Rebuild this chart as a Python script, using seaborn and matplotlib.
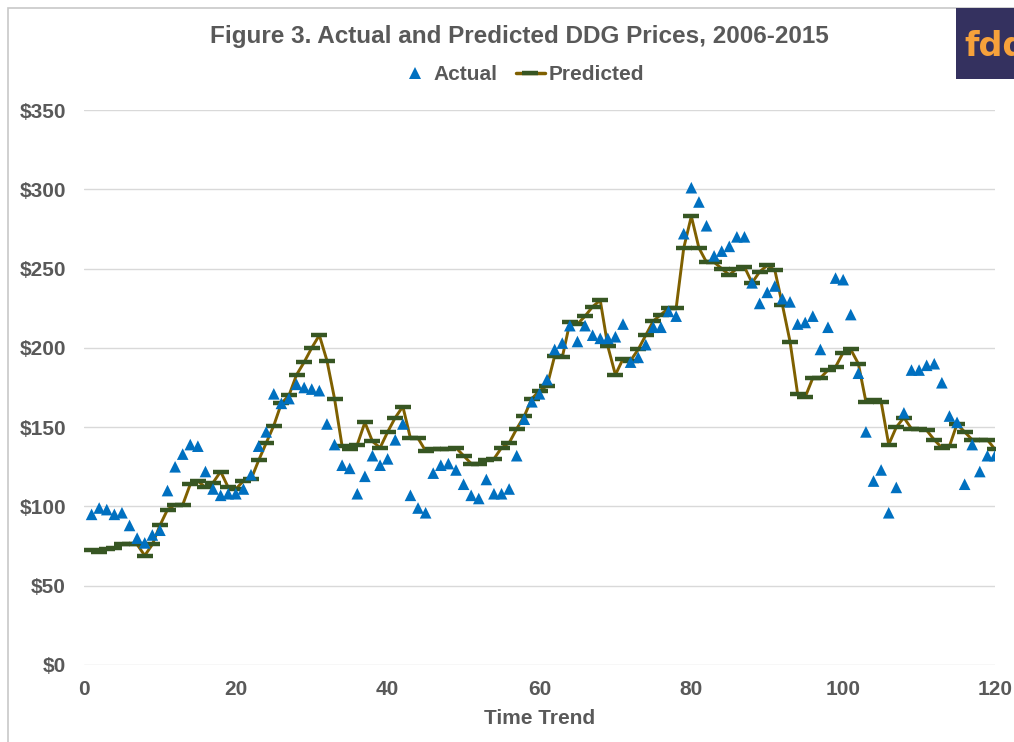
import numpy as np
import pandas as pd
import matplotlib
matplotlib.use("Agg")
import matplotlib.pyplot as plt
from matplotlib.lines import Line2D
from matplotlib.patches import Rectangle
import seaborn as sns

# time trend index (months)
time_trend = list(range(1, 121))

# actual DDG prices ($/ton)
actual = [95, 99, 98, 95, 96, 88, 80, 77, 82, 85,
          110, 125, 133, 139, 138, 122, 111, 107, 108, 108,
          111, 120, 138, 147, 171, 165, 168, 177, 175, 174,
          173, 152, 139, 126, 124, 108, 119, 132, 126, 130,
          142, 152, 107, 99, 96, 121, 126, 127, 123, 114,
          107, 105, 117, 108, 108, 111, 132, 155, 166, 171,
          180, 199, 203, 214, 204, 214, 208, 206, 206, 207,
          215, 191, 194, 202, 213, 213, 223, 220, 272, 301,
          292, 277, 258, 261, 264, 270, 270, 241, 228, 235,
          239, 231, 229, 215, 216, 220, 199, 213, 244, 243,
          221, 184, 147, 116, 123, 96, 112, 159, 186, 186,
          189, 190, 178, 157, 153, 114, 139, 122, 132, 132]

# predicted DDG prices ($/ton)
predicted = [72.5, 71.5, 73, 74, 76, 76, 76, 69, 76, 88,
             98, 101, 101, 114, 116, 112, 115, 122, 112, 111,
             116, 117, 129, 140, 151, 165, 170, 183, 191, 200,
             208, 192, 168, 138, 136, 139, 153, 141, 137, 147,
             156, 163, 143, 143, 135, 136, 136, 136, 137, 132,
             127, 127, 129, 130, 137, 140, 149, 157, 168, 173,
             176, 195, 194, 216, 215, 220, 226, 230, 201, 183,
             193, 192, 199, 208, 217, 221, 225, 225, 263, 283,
             263, 254, 254, 250, 246, 250, 251, 241, 248, 252,
             249, 227, 204, 171, 169, 181, 181, 186, 188, 197,
             199, 190, 166, 167, 166, 139, 150, 156, 149, 149,
             148, 142, 137, 138, 152, 147, 142, 142, 142, 136]

df = pd.DataFrame({"Time Trend": time_trend, "Actual": actual, "Predicted": predicted})

sns.set_theme(style="white")
plt.rcParams["font.family"] = ["Liberation Sans", "DejaVu Sans"]

GRAY = "#595959"
BLUE = "#0070C0"
LINE = "#7F6000"
DASH = "#375623"

fig = plt.figure(figsize=(10.14, 7.42), dpi=100)
ax = fig.add_axes([84 / 1014, 1 - 665 / 742, 911 / 1014, 555 / 742])

sns.lineplot(data=df, x="Time Trend", y="Predicted", ax=ax, color=LINE, linewidth=2.1,
             marker="_", markersize=11, markeredgewidth=3.2, markeredgecolor=DASH, zorder=2)
sns.scatterplot(data=df, x="Time Trend", y="Actual", ax=ax, marker="^", s=70,
                color=BLUE, edgecolor="none", linewidth=0, zorder=3)

ax.set_xlim(0, 120)
ax.set_ylim(0, 350)
ax.set_xticks(range(0, 121, 20))
ax.set_yticks(range(0, 351, 50))
ax.set_yticklabels([f"${v}" for v in range(0, 351, 50)])
ax.yaxis.grid(True, color="#D9D9D9", linewidth=1)
ax.xaxis.grid(False)
for s in ax.spines.values():
    s.set_visible(False)
ax.tick_params(axis="y", length=0, pad=13, labelsize=15, labelcolor=GRAY)
ax.tick_params(axis="x", length=0, pad=11, labelsize=15, labelcolor=GRAY)
for lab in ax.get_xticklabels() + ax.get_yticklabels():
    lab.set_fontweight("bold")
ax.set_ylabel("")
ax.set_xlabel("Time Trend", fontsize=15, fontweight="bold", color=GRAY, labelpad=7)

fig.text(0.512, 1 - 37 / 742, "Figure 3. Actual and Predicted DDG Prices, 2006-2015",
         ha="center", va="center", fontsize=17.5, fontweight="bold", color=GRAY)

handles = [Line2D([], [], linestyle="none", marker="^", markersize=8, color=BLUE, markeredgewidth=0),
           Line2D([], [], color=LINE, linewidth=2.5, marker="_", markersize=11,
                  markeredgewidth=3.2, markeredgecolor=DASH)]
leg = fig.legend(handles, ["Actual", "Predicted"], loc="center", bbox_to_anchor=(0.515, 1 - 75 / 742),
                 ncol=2, frameon=False, handlelength=1.4, handletextpad=0.15, columnspacing=0.9,
                 prop={"size": 15, "weight": "bold"})
for t in leg.get_texts():
    t.set_color(GRAY)

# chart frame and logo box
fig.add_artist(Rectangle((8 / 1014, -0.1), 1.2, 1.1 - 8 / 742, transform=fig.transFigure,
                         fill=False, edgecolor="#C8C8C8", linewidth=1.2))
fig.add_artist(Rectangle((956 / 1014, 1 - 79 / 742), 60 / 1014, 71 / 742, transform=fig.transFigure,
                         facecolor="#34315F", edgecolor="none"))
fig.text(964 / 1014, 1 - 46 / 742, "fdd", ha="left", va="center", fontsize=24,
         fontweight="bold", color="#F6A13B", family="DejaVu Sans")

fig.savefig("out.png", dpi=100)
